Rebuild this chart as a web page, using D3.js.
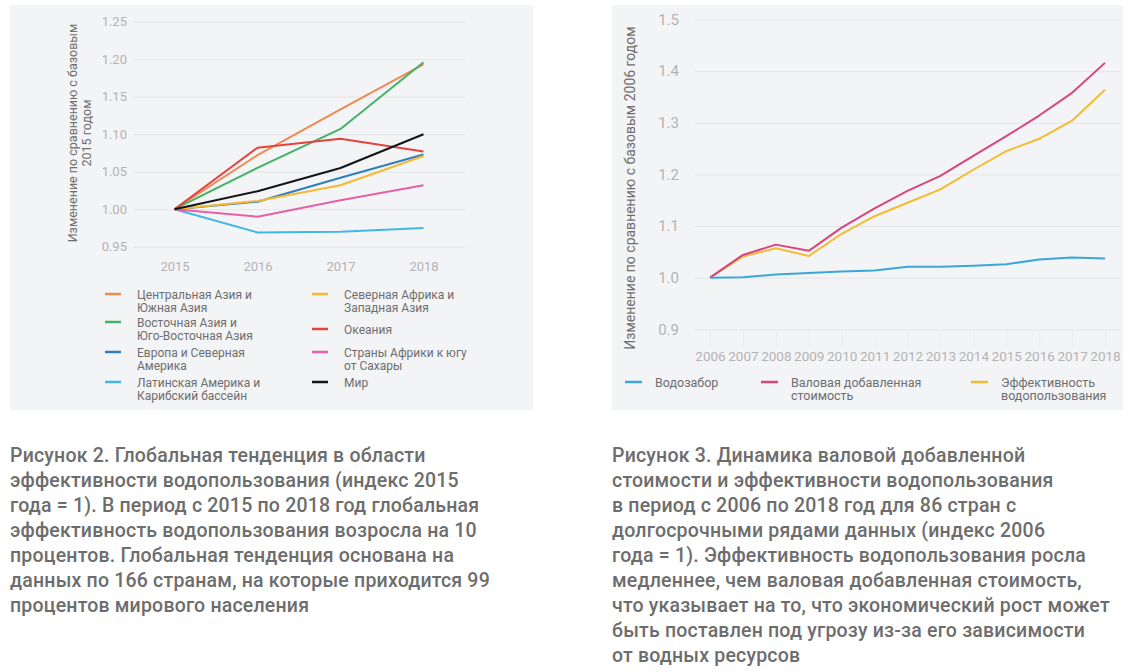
<!DOCTYPE html>
<html>
<head>
<meta charset="utf-8">
<script src="https://cdn.jsdelivr.net/npm/d3@7"></script>
<style>
  html, body { margin: 0; padding: 0; background: #ffffff; }
  svg { display: block; font-family: Roboto, "Noto Sans", sans-serif; }
</style>
</head>
<body>
<svg id="chart" width="1145" height="672"></svg>
<script>
// ---------- Figure 2 data ----------
const yearsL = [2015, 2016, 2017, 2018];
const ticksL = [0.95, 1.00, 1.05, 1.10, 1.15, 1.20, 1.25];
const namesL = [
  ["Центральная Азия и", "Южная Азия"],
  ["Восточная Азия и", "Юго-Восточная Азия"],
  ["Европа и Северная", "Америка"],
  ["Латинская Америка и", "Карибский бассейн"],
  ["Северная Африка и", "Западная Азия"],
  ["Океания"],
  ["Страны Африки к югу", "от Сахары"],
  ["Мир"]
];
const centralSouthAsia = [1.000, 1.072, 1.133, 1.193];
const eastSEAsia       = [1.000, 1.055, 1.107, 1.196];
const europeNAmerica   = [1.000, 1.010, 1.042, 1.073];
const latinAmerica     = [1.000, 0.969, 0.970, 0.975];
const nAfricaWAsia     = [1.000, 1.011, 1.032, 1.071];
const oceania          = [1.000, 1.082, 1.094, 1.077];
const subSaharan       = [1.000, 0.990, 1.012, 1.032];
const world            = [1.000, 1.024, 1.055, 1.100];
const colorsL = ["#ef8a54", "#45b068", "#2f7dbd", "#42b7e3", "#f6b932", "#e3433f", "#e660a5", "#141414"];

// ---------- Figure 3 data ----------
const yearsR = [2006, 2007, 2008, 2009, 2010, 2011, 2012, 2013, 2014, 2015, 2016, 2017, 2018];
const ticksR = [0.9, 1.0, 1.1, 1.2, 1.3, 1.4, 1.5];
const namesR = [["Водозабор"], ["Валовая добавленная", "стоимость"], ["Эффективность", "водопользования"]];
const withdrawal = [1.000, 1.001, 1.006, 1.009, 1.012, 1.014, 1.021, 1.021, 1.023, 1.026, 1.035, 1.039, 1.037];
const gva        = [1.000, 1.044, 1.064, 1.052, 1.097, 1.134, 1.168, 1.197, 1.236, 1.274, 1.314, 1.358, 1.416];
const efficiency = [1.000, 1.041, 1.057, 1.042, 1.085, 1.119, 1.145, 1.171, 1.209, 1.245, 1.269, 1.304, 1.364];
const colorsR = ["#3aa7d9", "#d8457f", "#f5bb30"];

const caption2 = [
  "Рисунок 2. Глобальная тенденция в области",
  "эффективности водопользования (индекс 2015",
  "года = 1). В период с 2015 по 2018 год глобальная",
  "эффективность водопользования возросла на 10",
  "процентов. Глобальная тенденция основана на",
  "данных по 166 странам, на которые приходится 99",
  "процентов мирового населения"
];
const caption3 = [
  "Рисунок 3. Динамика валовой добавленной",
  "стоимости и эффективности водопользования",
  "в период с 2006 по 2018 год для 86 стран с",
  "долгосрочными рядами данных (индекс 2006",
  "года = 1). Эффективность водопользования росла",
  "медленнее, чем валовая добавленная стоимость,",
  "что указывает на то, что экономический рост может",
  "быть поставлен под угрозу из-за его зависимости",
  "от водных ресурсов"
];

const svg = d3.select("#chart");
const panelFill = "#f3f4f6";
const gridColor = "#e4e5e8";
const tickColor = "#b3b3b3";
const textColor = "#6e6e6e";

// ================= LEFT PANEL =================
svg.append("rect").attr("x", 10).attr("y", 5).attr("width", 523).attr("height", 405).attr("fill", panelFill);

const xL = d3.scalePoint().domain(yearsL).range([133, 465]).padding(0.5);
const yL = d3.scaleLinear().domain([0.95, 1.25]).range([246.7, 21.7]);

const gyL = svg.append("g").attr("transform", "translate(133,0)")
  .call(d3.axisLeft(yL).tickValues(ticksL).tickSize(-(465 - 133)).tickPadding(6).tickFormat(d3.format(".2f")));
gyL.select(".domain").remove();
gyL.selectAll(".tick line").attr("stroke", gridColor).attr("stroke-width", 1);
gyL.selectAll(".tick text").attr("fill", tickColor).attr("font-size", 13).attr("font-family", "Roboto");

const gxL = svg.append("g").attr("transform", "translate(0,246.7)")
  .call(d3.axisBottom(xL).tickSize(0).tickPadding(15).tickFormat(d3.format("d")));
gxL.select(".domain").remove();
gxL.selectAll(".tick text").attr("fill", tickColor).attr("font-size", 13).attr("font-family", "Roboto");

svg.append("text")
  .attr("transform", "translate(73,133) rotate(-90)")
  .attr("text-anchor", "middle").attr("dy", "0.35em")
  .attr("font-size", 12.5).attr("fill", textColor)
  .text("Изменение по сравнению с базовым");
svg.append("text")
  .attr("transform", "translate(87,133) rotate(-90)")
  .attr("text-anchor", "middle").attr("dy", "0.35em")
  .attr("font-size", 12.5).attr("fill", textColor)
  .text("2015 годом");

const seriesL = [centralSouthAsia, eastSEAsia, europeNAmerica, latinAmerica, nAfricaWAsia, oceania, subSaharan, world];
const lineL = d3.line().x((d, i) => xL(yearsL[i])).y(d => yL(d));
svg.append("g").selectAll("path").data(seriesL).join("path")
  .attr("d", d => lineL(d))
  .attr("fill", "none")
  .attr("stroke", (d, i) => colorsL[i])
  .attr("stroke-width", 2)
  .attr("stroke-linejoin", "round");

// legend left
const legPosL = [
  {x: 105, y: 295}, {x: 105, y: 323}, {x: 105, y: 353}, {x: 105, y: 383},
  {x: 312, y: 295}, {x: 312, y: 330}, {x: 312, y: 353}, {x: 312, y: 383}
];
namesL.forEach((lines, i) => {
  const p = legPosL[i];
  const g = svg.append("g").attr("transform", `translate(${p.x},${p.y})`);
  g.append("line").attr("x1", 0).attr("x2", 16).attr("y1", -1).attr("y2", -1)
    .attr("stroke", colorsL[i]).attr("stroke-width", 2.5);
  lines.forEach((l, j) => {
    g.append("text").attr("x", 32).attr("y", j * 13.5 - 0.5).attr("dy", "0.35em")
      .attr("font-size", 12).attr("fill", textColor).text(l);
  });
});

// ================= RIGHT PANEL =================
svg.append("rect").attr("x", 612).attr("y", 5).attr("width", 511).attr("height", 405).attr("fill", panelFill);

const xR = d3.scalePoint().domain(yearsR).range([710, 1105]);
const yR = d3.scaleLinear().domain([0.9, 1.5]).range([329.3, 19.5]);

const gyR = svg.append("g").attr("transform", "translate(695,0)")
  .call(d3.axisLeft(yR).tickValues(ticksR).tickSize(-(1120 - 695)).tickPadding(16).tickFormat(d3.format(".1f")));
gyR.select(".domain").remove();
gyR.selectAll(".tick line").attr("stroke", gridColor).attr("stroke-width", 1);
gyR.selectAll(".tick text").attr("fill", tickColor).attr("font-size", 15).attr("font-family", "Roboto");

const gxR = svg.append("g").attr("transform", "translate(0,329.3)")
  .call(d3.axisBottom(xR).tickSize(17).tickPadding(5).tickFormat(d3.format("d")));
gxR.select(".domain").remove();
gxR.selectAll(".tick line").attr("stroke", "#ebecee");
gxR.selectAll(".tick text").attr("fill", tickColor).attr("font-size", 13.5).attr("font-family", "Roboto");

svg.append("text")
  .attr("transform", "translate(630,188) rotate(-90)")
  .attr("text-anchor", "middle").attr("dy", "0.35em")
  .attr("font-size", 14).attr("fill", textColor)
  .text("Изменение по сравнению с базовым 2006 годом");

const seriesR = [withdrawal, gva, efficiency];
const lineR = d3.line().x((d, i) => xR(yearsR[i])).y(d => yR(d));
svg.append("g").selectAll("path").data([seriesR[2], seriesR[1], seriesR[0]]).join("path")
  .attr("d", d => lineR(d))
  .attr("fill", "none")
  .attr("stroke", (d, i) => colorsR[2 - i])
  .attr("stroke-width", 2)
  .attr("stroke-linejoin", "round");

const legPosR = [{x: 625, y: 383}, {x: 761, y: 383}, {x: 971, y: 383}];
namesR.forEach((lines, i) => {
  const p = legPosR[i];
  const g = svg.append("g").attr("transform", `translate(${p.x},${p.y})`);
  g.append("line").attr("x1", 0).attr("x2", 17).attr("y1", -1).attr("y2", -1)
    .attr("stroke", colorsR[i]).attr("stroke-width", 2.5);
  lines.forEach((l, j) => {
    g.append("text").attr("x", 30).attr("y", j * 13.5 - 0.5).attr("dy", "0.35em")
      .attr("font-size", 12.5).attr("fill", textColor).text(l);
  });
});

// ================= CAPTIONS =================
const cap2 = svg.append("text").attr("font-size", 19.5).attr("font-weight", 500)
  .attr("letter-spacing", 0.2).attr("fill", "#6d6d6d");
caption2.forEach((l, j) => cap2.append("tspan").attr("x", 10).attr("y", 462 + j * 25).text(l));
const cap3 = svg.append("text").attr("font-size", 19.5).attr("font-weight", 500)
  .attr("letter-spacing", 0.2).attr("fill", "#6d6d6d");
caption3.forEach((l, j) => cap3.append("tspan").attr("x", 612).attr("y", 462 + j * 25).text(l));
</script>
</body>
</html>
